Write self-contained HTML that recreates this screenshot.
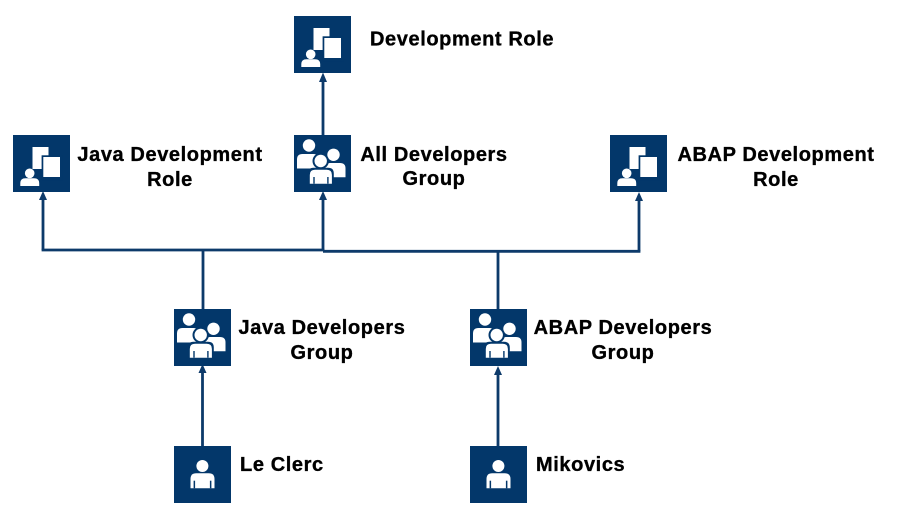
<!DOCTYPE html>
<html>
<head>
<meta charset="utf-8">
<style>
  html, body { margin: 0; padding: 0; background: #ffffff; }
  body { width: 907px; height: 519px; overflow: hidden; font-family: "Liberation Sans", Arial, sans-serif; }
  svg { display: block; }
  svg text { font-family: "Liberation Sans", Arial, sans-serif; font-weight: 700; font-size: 20px; letter-spacing: 0.6px; fill: #000; stroke: #000; stroke-width: 0.35px; }
</style>
</head>
<body>
<svg width="907" height="519" viewBox="0 0 907 519" xmlns="http://www.w3.org/2000/svg">
  <defs>
    <g id="roleIcon">
      <rect x="0" y="0" width="57" height="57" fill="#03376a"/>
      <rect x="19.5" y="12" width="16" height="22" fill="#fff"/>
      <rect x="28.6" y="20.3" width="21" height="25" fill="#03376a"/>
      <rect x="30.3" y="22" width="16.7" height="20" fill="#fff"/>
      <circle cx="16.7" cy="38.3" r="4.8" fill="#fff"/>
      <path d="M7.3 51 L7.3 48 Q7.3 43.2 12.5 43.2 L21 43.2 Q26.2 43.2 26.2 48 L26.2 51 Z" fill="#fff"/>
    </g>
    <g id="groupIcon">
      <rect x="0" y="0" width="57" height="57" fill="#03376a"/>
      <circle cx="15" cy="10.5" r="6.2" fill="#fff"/>
      <path d="M3 33.5 L3 24.5 Q3 19 8.5 19 L19.5 19 Q25 19 25 24.5 L25 33.5 Z" fill="#fff"/>
      <circle cx="39.5" cy="19.8" r="6.2" fill="#fff"/>
      <path d="M30.8 42.3 L30.8 33.3 Q30.8 28 36 28 L46 28 Q51.5 28 51.5 33.3 L51.5 42.3 Z" fill="#fff"/>
      <circle cx="26.7" cy="26" r="8.2" fill="#03376a"/>
      <circle cx="26.7" cy="26" r="6.2" fill="#fff"/>
      <path d="M14 50.5 L14 38.5 Q14 32.8 19.5 32.8 L34 32.8 Q39.8 32.8 39.8 38.5 L39.8 50.5 Z" fill="#03376a"/>
      <path d="M15.8 48.7 L15.8 40 Q15.8 34.8 21 34.8 L32.7 34.8 Q37.9 34.8 37.9 40 L37.9 48.7 Z" fill="#fff"/>
      <rect x="19.3" y="42" width="1.4" height="6.7" fill="#03376a"/>
      <rect x="33.2" y="42" width="1.4" height="6.7" fill="#03376a"/>
    </g>
    <g id="userIcon">
      <rect x="0" y="0" width="57" height="57" fill="#03376a"/>
      <circle cx="28.4" cy="20" r="6" fill="#fff"/>
      <path d="M16.5 42.3 L16.5 33 Q16.5 27.3 22.3 27.3 L34.7 27.3 Q40.5 27.3 40.5 33 L40.5 42.3 Z" fill="#fff"/>
      <rect x="19.6" y="34.7" width="1.5" height="7.6" fill="#03376a"/>
      <rect x="35.9" y="34.7" width="1.5" height="7.6" fill="#03376a"/>
    </g>
  </defs>

  <g stroke="#0d3a6a" stroke-width="2.8" fill="none">
    <line x1="323" y1="135" x2="323" y2="81"/>
    <line x1="203" y1="309" x2="203" y2="250"/>
    <line x1="41.6" y1="250" x2="324.4" y2="250"/>
    <line x1="43" y1="250" x2="43" y2="199"/>
    <line x1="323" y1="251" x2="323" y2="199"/>
    <line x1="498" y1="309" x2="498" y2="251.3"/>
    <line x1="323" y1="251.3" x2="640.4" y2="251.3"/>
    <line x1="639" y1="251.3" x2="639" y2="200"/>
    <line x1="202.5" y1="446" x2="202.5" y2="372"/>
    <line x1="498" y1="446" x2="498" y2="374"/>
  </g>
  <g fill="#0d3a6a">
    <polygon points="323,72.5 319,82 327,82"/>
    <polygon points="43,191 39,200 47,200"/>
    <polygon points="323,191 319,200 327,200"/>
    <polygon points="639,192 635,201 643,201"/>
    <polygon points="202.5,364 198.5,373 206.5,373"/>
    <polygon points="498,366 494,375 502,375"/>
  </g>

  <use href="#roleIcon" x="294" y="16"/>
  <use href="#groupIcon" x="294" y="135"/>
  <use href="#roleIcon" x="13" y="135"/>
  <use href="#roleIcon" x="610" y="135"/>
  <use href="#groupIcon" x="174" y="309"/>
  <use href="#groupIcon" x="470" y="309"/>
  <use href="#userIcon" x="174" y="446"/>
  <use href="#userIcon" x="470" y="446"/>

  <g font-family="Liberation Sans, Arial, sans-serif" font-weight="700" font-size="20" fill="#000">
    <text x="370" y="45.5">Development Role</text>
    <text x="170" y="161" text-anchor="middle">Java Development</text>
    <text x="170" y="186" text-anchor="middle">Role</text>
    <text x="434" y="161" text-anchor="middle">All Developers</text>
    <text x="434" y="185" text-anchor="middle">Group</text>
    <text x="776" y="161" text-anchor="middle">ABAP Development</text>
    <text x="776" y="186" text-anchor="middle">Role</text>
    <text x="322" y="334" text-anchor="middle">Java Developers</text>
    <text x="322" y="359" text-anchor="middle">Group</text>
    <text x="623" y="334" text-anchor="middle">ABAP Developers</text>
    <text x="623" y="359" text-anchor="middle">Group</text>
    <text x="240" y="471">Le Clerc</text>
    <text x="536" y="471">Mikovics</text>
  </g>
</svg>
</body>
</html>
